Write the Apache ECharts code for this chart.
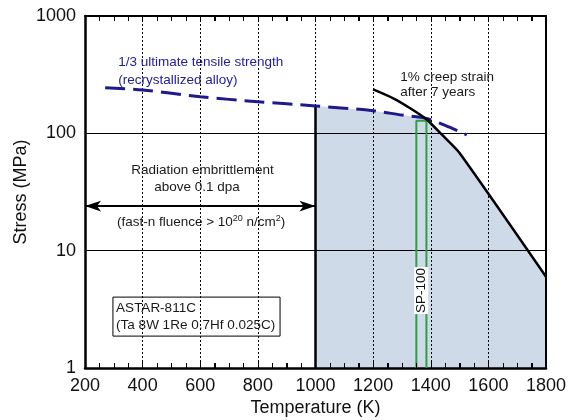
<!DOCTYPE html>
<html>
<head>
<meta charset="utf-8">
<script src="https://cdn.jsdelivr.net/npm/echarts@6/dist/echarts.min.js"></script>
<style>
html,body{margin:0;padding:0;background:#fff;}
#c{width:580px;height:420px;background:#fff;}
</style>
</head>
<body>
<div id="c"></div>
<script>
// ---- data ----
var xTicks = [200, 400, 600, 800, 1000, 1200, 1400, 1600, 1800];
var yTicks = [1, 10, 100, 1000];
var minorPerMajor = 4;
// 1/3 ultimate tensile strength (recrystallized alloy)
var utsT = [270, 400, 600, 800, 1000, 1200, 1300, 1385, 1450, 1525];
var utsS = [245, 234, 205, 186, 171, 156, 143, 134, 117, 97];
// 1% creep strain after 7 years
var creepT = [1200, 1270, 1330, 1385, 1445, 1500, 1800];
var creepS = [237, 199, 163, 132, 94, 68, 6];
// radiation embrittlement limit
var embrittleT = 1000;
var arrowS = 24;
// SP-100 operating band
var spT = [1350, 1385];
var spTop = 128;
// text anchors (data coords)
var labels = [
  {text: '1/3 ultimate tensile strength', x: 315, y: 405, align: 'left', color: '#23209a'},
  {text: '(recrystallized alloy)', x: 315, y: 285, align: 'left', color: '#23209a'},
  {text: '1% creep strain', x: 1294, y: 302, align: 'left', color: '#1a1a1a'},
  {text: 'after 7 years', x: 1294, y: 225, align: 'left', color: '#1a1a1a'},
  {text: 'Radiation embrittlement', x: 608, y: 48.2, align: 'center', color: '#1a1a1a'},
  {text: 'above 0.1 dpa', x: 589, y: 34.8, align: 'center', color: '#1a1a1a'},
  {text: 'ASTAR-811C', x: 308, y: 3.26, align: 'left', color: '#1a1a1a'},
  {text: '(Ta 8W 1Re 0.7Hf 0.025C)', x: 308, y: 2.32, align: 'left', color: '#1a1a1a'}
];
var fluenceLabel = {x: 603, y: 17.4};
var boxCorners = [[297, 4.02], [877, 1.87]];
var spLabel = {text: 'SP-100', x: 1367, y: 4.57};

// ---- build ----
function pairs(a, b) { return a.map(function (v, i) { return [v, b[i]]; }); }
var utsData = pairs(utsT, utsS);
var creepData = pairs(creepT, creepS);
var cross = 1385;
var fillData = utsData.filter(function (p) { return p[0] >= embrittleT && p[0] <= cross; })
  .concat(creepData.filter(function (p) { return p[0] > cross; }));
var uts1000 = utsS[utsT.indexOf(embrittleT)];

var FONT = "'Liberation Sans', Arial, sans-serif";
var chart = echarts.init(document.getElementById('c'), null, {renderer: 'canvas'});

function plain(v) { return String(v); }
function xAxisCfg(pos) {
  return {
    type: 'value', min: xTicks[0], max: xTicks[xTicks.length - 1], interval: xTicks[1] - xTicks[0], position: pos,
    axisLine: {show: true, lineStyle: {color: '#000', width: pos === 'bottom' ? 2.5 : 2}},
    axisTick: {show: true, inside: true, length: 6, lineStyle: {color: '#000', width: 1}},
    minorTick: {show: true, splitNumber: minorPerMajor, length: 5, lineStyle: {color: '#000', width: 1}},
    splitLine: pos === 'bottom' ? {show: true, lineStyle: {color: '#000', width: 1, type: [2, 2]}} : {show: false},
    axisLabel: pos === 'bottom' ? {fontSize: 18, color: '#111', fontFamily: FONT, margin: 9, formatter: plain} : {show: false},
    name: pos === 'bottom' ? 'Temperature (K)' : '', nameLocation: 'middle', nameGap: 31, nameMoveOverlap: false,
    nameTextStyle: {fontSize: 18, color: '#111', fontFamily: FONT}
  };
}
var option = {
  animation: false,
  grid: {left: 85, right: 34, top: 16, bottom: 52, outerBoundsMode: 'none'},
  xAxis: [xAxisCfg('bottom'), xAxisCfg('top')],
  yAxis: [{
    type: 'log', logBase: 10, min: yTicks[0], max: yTicks[yTicks.length - 1],
    axisLine: {show: true, lineStyle: {color: '#000', width: 2.5}},
    axisTick: {show: false},
    splitLine: {show: true, lineStyle: {color: '#000', width: 1}},
    axisLabel: {fontSize: 18, color: '#111', fontFamily: FONT, margin: 9, formatter: plain},
    name: 'Stress (MPa)', nameLocation: 'middle', nameGap: 55, nameMoveOverlap: false,
    nameTextStyle: {fontSize: 18, color: '#111', fontFamily: FONT}
  }, {
    type: 'log', logBase: 10, min: yTicks[0], max: yTicks[yTicks.length - 1], position: 'right',
    axisLine: {show: true, lineStyle: {color: '#000', width: 2}},
    axisTick: {show: false}, splitLine: {show: false}, axisLabel: {show: false}
  }],
  series: [
    {
      name: 'fill', type: 'line', z: -1, data: fillData, symbol: 'none',
      lineStyle: {width: 0, opacity: 0},
      areaStyle: {color: '#cfdae8', opacity: 1, origin: 'start'}
    },
    {
      name: 'limit', type: 'line', z: 6, data: [[embrittleT, 1], [embrittleT, uts1000]], symbol: 'none',
      lineStyle: {color: '#000', width: 2.5}
    },
    {
      name: 'sp100', type: 'line', z: 6,
      data: [[spT[0], 1], [spT[0], spTop], [spT[1], spTop], [spT[1], 1]], symbol: 'none',
      lineStyle: {color: '#2ea043', width: 2}
    },
    {
      name: 'uts', type: 'line', z: 7, data: utsData, symbol: 'none', smooth: 0.3,
      lineStyle: {color: '#1e1a8c', width: 3, type: [20, 8]}
    },
    {
      name: 'creep', type: 'line', z: 8, data: creepData, symbol: 'none', smooth: 0.2,
      lineStyle: {color: '#000', width: 2.5}
    },
    {
      name: 'arrow', type: 'line', z: 8, data: [], symbol: 'none',
      markLine: {
        silent: true, symbol: ['arrow', 'arrow'], symbolSize: [8, 16],
        label: {show: false},
        lineStyle: {color: '#000', width: 2, type: 'solid'},
        data: [[{coord: [xTicks[0], arrowS]}, {coord: [embrittleT, arrowS]}]]
      }
    },
    {
      name: 'topAxisHolder', type: 'line', xAxisIndex: 1, yAxisIndex: 1, data: [[xTicks[0], yTicks[0]]], symbol: 'none',
      lineStyle: {opacity: 0}
    }
  ]
};
chart.setOption(option);

function px(x, y) { return chart.convertToPixel({gridIndex: 0}, [x, y]); }
var g = [];
// inward tick marks on bottom and top frame, from the tick arrays
var yBot = px(xTicks[0], yTicks[0])[1];
var yTop = px(xTicks[0], yTicks[yTicks.length - 1])[1];
var step = (xTicks[1] - xTicks[0]) / minorPerMajor;
for (var i = 0; i < xTicks.length - 1; i++) {
  for (var k = 1; k < minorPerMajor; k++) {
    var xx = Math.round(px(xTicks[i] + k * step, yTicks[0])[0]) + 0.5;
    g.push({type: 'line', z: 50, silent: true, shape: {x1: xx, y1: yBot, x2: xx, y2: yBot - 5}, style: {stroke: '#000', lineWidth: 1}});
    g.push({type: 'line', z: 50, silent: true, shape: {x1: xx, y1: yTop, x2: xx, y2: yTop + 5}, style: {stroke: '#000', lineWidth: 1}});
  }
}
labels.forEach(function (l) {
  var p = px(l.x, l.y);
  g.push({type: 'text', x: p[0], y: p[1], z: 100,
    style: {text: l.text, fill: l.color, font: '13.5px ' + FONT, textAlign: l.align, textVerticalAlign: 'middle'}});
});
var fp = px(fluenceLabel.x, fluenceLabel.y);
g.push({type: 'text', x: fp[0], y: fp[1], z: 100,
  style: {text: '(fast-n fluence > 10{sup|20} n/cm{sup|2})', fill: '#1a1a1a', font: '13.5px ' + FONT,
    textAlign: 'center', textVerticalAlign: 'middle',
    rich: {sup: {fontSize: 9, fontFamily: FONT, fill: '#1a1a1a', verticalAlign: 'bottom', padding: [0, 0, 7, 0]}}}});
var b0 = px(boxCorners[0][0], boxCorners[0][1]);
var b1 = px(boxCorners[1][0], boxCorners[1][1]);
g.push({type: 'rect', z: 99, shape: {x: b0[0], y: b0[1], width: b1[0] - b0[0], height: b1[1] - b0[1]},
  style: {fill: 'none', stroke: '#000', lineWidth: 1}});
var sp = px(spLabel.x, spLabel.y);
g.push({type: 'text', x: sp[0], y: sp[1], rotation: Math.PI / 2, z: 100,
  style: {text: spLabel.text, fill: '#111', font: '13.5px ' + FONT, textAlign: 'center', textVerticalAlign: 'middle',
    backgroundColor: '#fff', padding: [0, 1, 0, 1]}});
chart.setOption({graphic: g});
</script>
</body>
</html>
